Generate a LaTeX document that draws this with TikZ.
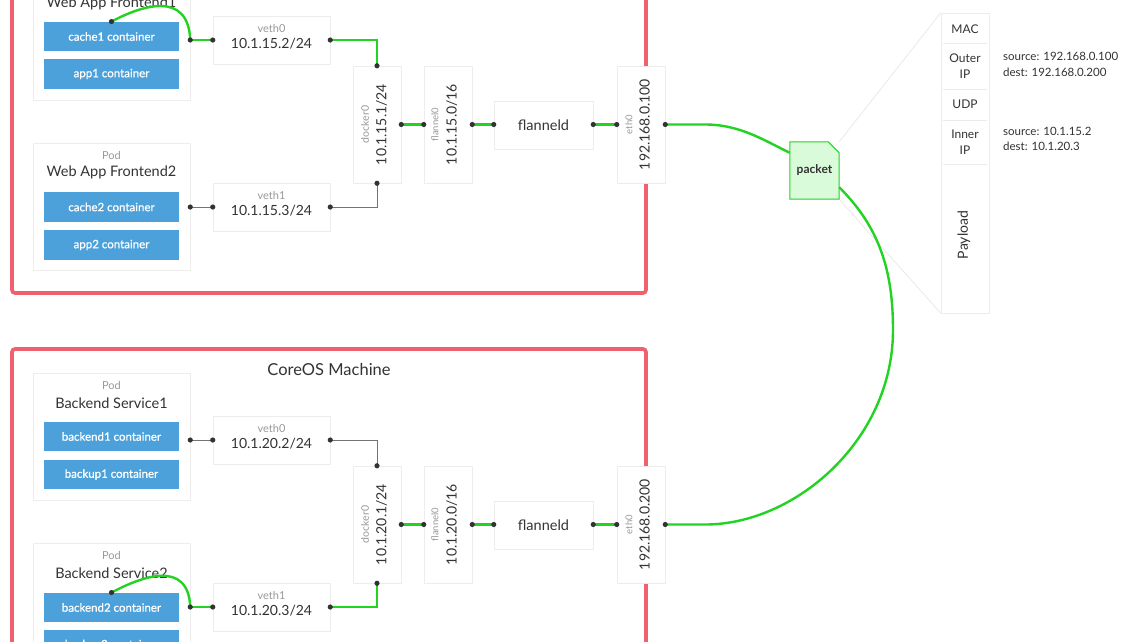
\documentclass[tikz,border=0pt]{standalone}
\usepackage{fontspec}
\setmainfont{Lato}
\newfontfamily\semib{Lato}[FakeBold=0.8]
\usetikzlibrary{shadows,backgrounds,calc}
\definecolor{machc}{HTML}{F0606E}
\definecolor{bluec}{HTML}{4DA1DB}
\definecolor{greenc}{HTML}{22D322}
\definecolor{pktfill}{HTML}{DAFBDA}
\definecolor{dotc}{HTML}{333333}
\definecolor{txtc}{HTML}{333333}
\newcommand\myfs[1]{\fontsize{#1}{#1}\selectfont}
\newcommand\myfsl[2]{\fontsize{#1}{#2}\selectfont}
\newcommand\dotp[1]{\fill[dotc] #1 circle (2.6pt);}
\begin{document}
\begin{tikzpicture}[x=1pt,y=-1pt,
  wbox/.style={draw=black!7, line width=0.5pt, fill=white, inner sep=0pt,
    drop shadow={opacity=0.22, shadow xshift=0.6pt, shadow yshift=-1.4pt}},
  podbox/.style={wbox, minimum width=157pt, minimum height=127pt},
  vbox/.style={wbox, minimum width=117pt, minimum height=48pt},
  tbox/.style={wbox, minimum width=48pt, minimum height=117pt},
  fbox/.style={wbox, minimum width=99pt, minimum height=48pt},
  cont/.style={fill=bluec, text=white, minimum width=135pt, minimum height=29.5pt, inner sep=0pt, font=\semib\myfs{11.5}},
  machine/.style={draw=machc, line width=3.6pt, rounded corners=3pt},
  gline/.style={draw=greenc, line width=2.4pt},
  kline/.style={draw=black!55, line width=0.8pt},
  smallg/.style={text=black!40, font=\myfs{11}, inner sep=0pt},
  smallr/.style={text=black!40, font=\myfs{10.5}, inner sep=0pt, rotate=90},
  ttl/.style={text=txtc, font=\myfs{14.5}, inner sep=0pt},
  ipt/.style={text=txtc, font=\myfs{14}, inner sep=0pt},
  ipr/.style={text=txtc, font=\myfs{14}, inner sep=0pt, rotate=90},
  detl/.style={text=txtc, font=\myfsl{12}{15.5}, inner sep=0pt, align=center},
  side/.style={text=txtc, font=\myfsl{11.5}{15.5}, inner sep=0pt, align=left, anchor=west}
]
\useasboundingbox (0,0) rectangle (1130,641);
\clip (0,0) rectangle (1130,641);
\begin{scope}[on background layer]
\fill[white] (0,0) rectangle (1130,641);
\end{scope}

% machines
\draw[machine] (12,-60) rectangle (646,293);
\draw[machine] (12,349) rectangle (646,720);
\node[text=txtc, font=\myfs{16.5}, inner sep=0pt] (mt) at (329,369) {CoreOS Machine};

% ---------- top machine ----------
\node[podbox] (p1) at (111.5,36.5) {};
\node[ttl] at ([yshift=-31pt]p1.north) {Web App Frontend1};
\node[cont] (c1) at (111.5,36.5) {cache1 container};
\node[cont] (a1) at (111.5,74) {app1 container};

\node[podbox] (p2) at (111.5,206.5) {};
\node[smallg] at ([yshift=-13pt]p2.north) {Pod};
\node[ttl] at ([yshift=-30pt]p2.north) {Web App Frontend2};
\node[cont] (c2) at (111.5,207) {cache2 container};
\node[cont] (a2) at (111.5,245) {app2 container};

\node[vbox] (v0) at (271.5,40) {};
\node[smallg] at ([yshift=-12.5pt]v0.north) {veth0};
\node[ipt] at ([yshift=-4pt]v0.center) {10.1.15.2/24};
\node[vbox] (v1) at (271.5,207) {};
\node[smallg] at ([yshift=-12.5pt]v1.north) {veth1};
\node[ipt] at ([yshift=-4pt]v1.center) {10.1.15.3/24};

\node[tbox] (d0) at (377,124.5) {};
\node[smallr] at ([xshift=-12pt]d0.center) {docker0};
\node[ipr] at ([xshift=4.5pt]d0.center) {10.1.15.1/24};
\node[tbox] (f0) at (448,124.5) {};
\node[smallr, font=\myfs{9.5}] at ([xshift=-13pt]f0.center) {flannel0};
\node[ipr] at ([xshift=3.7pt]f0.center) {10.1.15.0/16};
\node[fbox, text=txtc, font=\myfs{14.5}] (fd) at (543.5,125) {flanneld};
\node[tbox] (e0) at (641,124.5) {};
\node[smallr, font=\myfs{9.5}] at ([xshift=-12pt]e0.center) {eth0};
\node[ipr] at ([xshift=3.5pt]e0.center) {192.168.0.100};

% ---------- bottom machine ----------
\node[podbox] (p3) at (111.5,436.5) {};
\node[smallg] at ([yshift=-13pt]p3.north) {Pod};
\node[ttl] at ([yshift=-30pt]p3.north) {Backend Service1};
\node[cont] (c3) at (111.5,436.5) {backend1 container};
\node[cont] (a3) at (111.5,474.5) {backup1 container};

\node[podbox] (p4) at (111.5,606.5) {};
\node[smallg] at ([yshift=-13pt]p4.north) {Pod};
\node[ttl] at ([yshift=-30pt]p4.north) {Backend Service2};
\node[cont] (c4) at (111.5,607.5) {backend2 container};
\node[cont] (a4) at (111.5,645) {backup2 container};

\node[vbox] (v2) at (271.5,440) {};
\node[smallg] at ([yshift=-12.5pt]v2.north) {veth0};
\node[ipt] at ([yshift=-4pt]v2.center) {10.1.20.2/24};
\node[vbox] (v3) at (271.5,607) {};
\node[smallg] at ([yshift=-12.5pt]v3.north) {veth1};
\node[ipt] at ([yshift=-4pt]v3.center) {10.1.20.3/24};

\node[tbox] (d1) at (377,524.5) {};
\node[smallr] at ([xshift=-12pt]d1.center) {docker0};
\node[ipr] at ([xshift=4.5pt]d1.center) {10.1.20.1/24};
\node[tbox] (f1) at (448,524.5) {};
\node[smallr, font=\myfs{9.5}] at ([xshift=-13pt]f1.center) {flannel0};
\node[ipr] at ([xshift=3.7pt]f1.center) {10.1.20.0/16};
\node[fbox, text=txtc, font=\myfs{14.5}] (fd1) at (543.5,525) {flanneld};
\node[tbox] (e1) at (641,524.5) {};
\node[smallr, font=\myfs{9.5}] at ([xshift=-12pt]e1.center) {eth0};
\node[ipr] at ([xshift=3.5pt]e1.center) {192.168.0.200};

% ---------- packet and detail column ----------
\node[minimum width=49pt, minimum height=57pt, inner sep=0pt] (pkt) at (814.5,170.5) {};
\node[wbox, minimum width=48pt, minimum height=300pt] (col) at (965,163) {};
\draw[black!10, line width=0.6pt] (pkt.north east) -- (col.north west);
\draw[black!10, line width=0.6pt] (pkt.south east) -- (col.south west);
\filldraw[fill=pktfill, draw=greenc, line width=1pt]
  (pkt.north west) -- ([xshift=-11pt]pkt.north east) -- ([yshift=-11pt]pkt.north east)
  -- (pkt.south east) -- (pkt.south west) -- cycle;
\node[text=txtc, font=\bfseries\myfs{12}, inner sep=0pt] (pktl) at (pkt.center) {packet};

\foreach \yy in {43,89,120,164}
  \draw[black!8, line width=0.6pt] ([xshift=2pt]col.west |- 0,\yy) -- ([xshift=-2pt]col.east |- 0,\yy);
\node[detl] (mac) at (965,29) {MAC};
\node[detl] (oip) at (965,66) {Outer\\IP};
\node[detl] (udp) at (965,104.5) {UDP};
\node[detl] (iip) at (965,142) {Inner\\IP};
\node[detl, font=\myfs{14}, rotate=90] (pay) at (964,235) {Payload};
\node[side] (s1) at (1003,64.5) {source: 192.168.0.100\\dest: 192.168.0.200};
\node[side] (s2) at (1003,139) {source: 10.1.15.2\\dest: 10.1.20.3};

% ---------- connectors: top ----------
\draw[gline] (c1.north) .. controls +(30,-16) and +(-2,-50) .. (p1.east |- v0.west);
\draw[gline] (p1.east |- v0.west) -- (v0.west);
\dotp{(c1.north)} \dotp{(p1.east |- v0.west)} \dotp{(v0.west)}
\draw[gline] (v0.east) -| (d0.north);
\dotp{(v0.east)} \dotp{(d0.north)}
\draw[kline] (p2.east |- v1.west) -- (v1.west);
\dotp{(p2.east |- v1.west)} \dotp{(v1.west)}
\draw[kline] (v1.east) -| (d0.south);
\dotp{(v1.east)} \dotp{(d0.south)}
\draw[gline] (d0.east) -- (f0.west);
\dotp{(d0.east)} \dotp{(f0.west)}
\draw[gline] (f0.east) -- (f0.east -| fd.west);
\dotp{(f0.east)} \dotp{(f0.east -| fd.west)}
\draw[gline] (fd.east |- e0.west) -- (e0.west);
\dotp{(fd.east |- e0.west)} \dotp{(e0.west)}

% ---------- connectors: bottom ----------
\draw[kline] (p3.east |- v2.west) -- (v2.west);
\dotp{(p3.east |- v2.west)} \dotp{(v2.west)}
\draw[kline] (v2.east) -| (d1.north);
\dotp{(v2.east)} \dotp{(d1.north)}
\draw[gline] (c4.north) .. controls +(30,-16) and +(-2,-48) .. (p4.east |- v3.west);
\draw[gline] (p4.east |- v3.west) -- (v3.west);
\dotp{(c4.north)} \dotp{(p4.east |- v3.west)} \dotp{(v3.west)}
\draw[gline] (v3.east) -| (d1.south);
\dotp{(v3.east)} \dotp{(d1.south)}
\draw[gline] (d1.east) -- (f1.west);
\dotp{(d1.east)} \dotp{(f1.west)}
\draw[gline] (f1.east) -- (f1.east -| fd1.west);
\dotp{(f1.east)} \dotp{(f1.east -| fd1.west)}
\draw[gline] (fd1.east |- e1.west) -- (e1.west);
\dotp{(fd1.east |- e1.west)} \dotp{(e1.west)}

% ---------- packet path ----------
\coordinate (bend) at (893,330);
\draw[gline] (e0.east) -- ++(40,0) .. controls +(35,0) and +(-25,-12) .. ([yshift=-11pt]pkt.north west);
\draw[gline] ([yshift=12pt]pkt.south east) .. controls +(40,40) and +(0,-60) .. (bend)
  .. controls +(0,110) and +(90,0) .. ($(e1.east)+(40,0)$) -- (e1.east);
\dotp{(e0.east)} \dotp{(e1.east)}
\end{tikzpicture}
\end{document}
